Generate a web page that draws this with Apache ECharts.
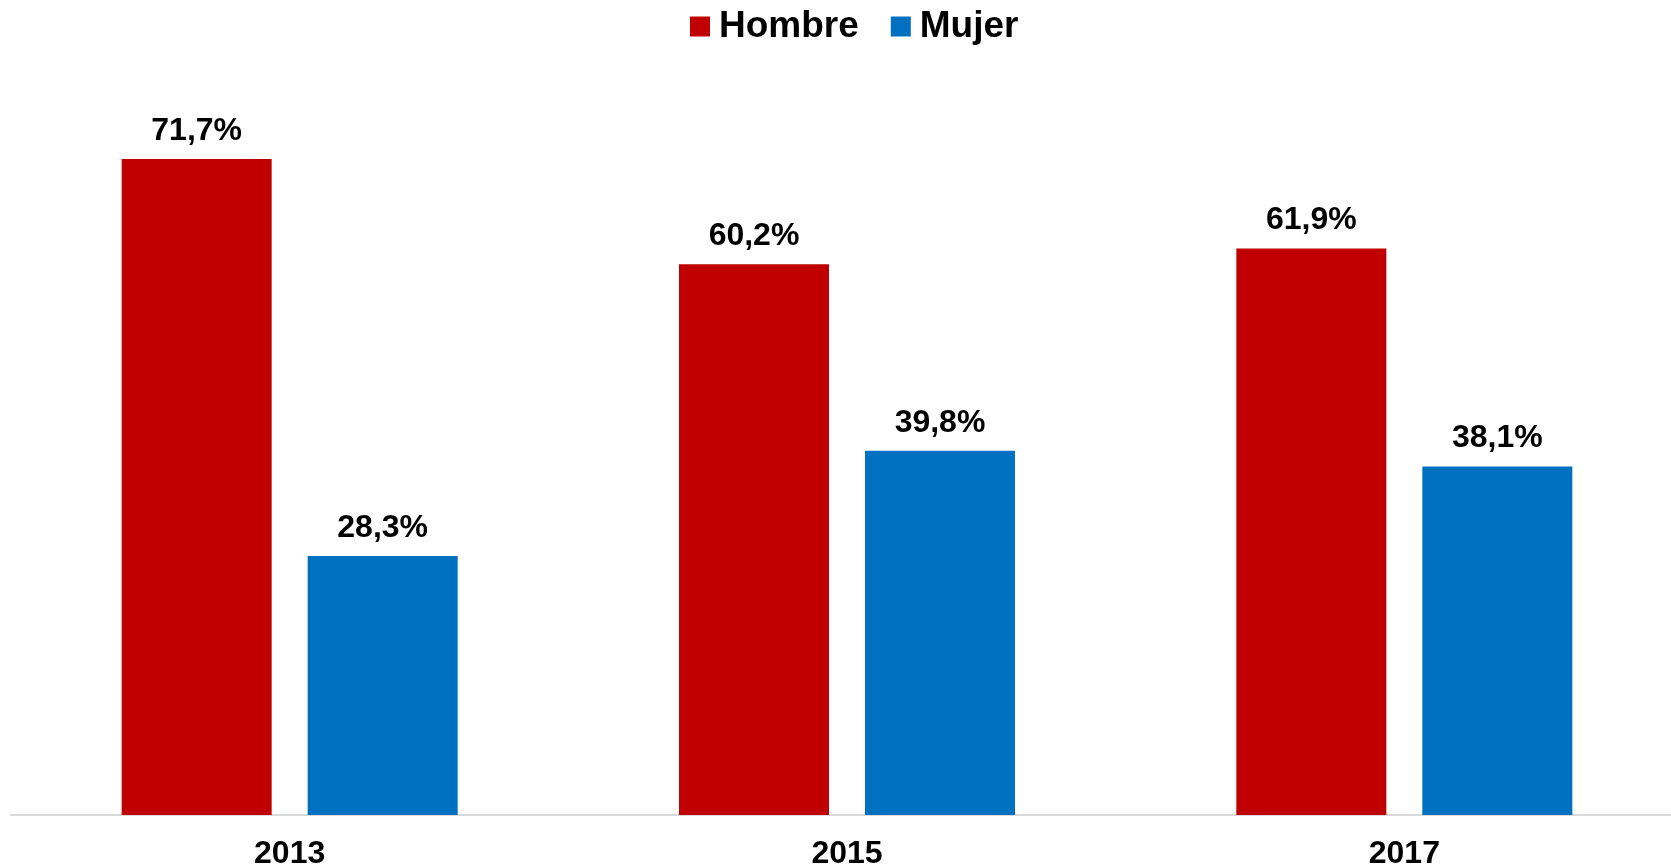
<!DOCTYPE html>
<html><head><meta charset="utf-8">
<script src="https://cdn.jsdelivr.net/npm/echarts@6/dist/echarts.min.js"></script>
<style>html,body{margin:0;padding:0;background:#fff;overflow:hidden}#c{width:1671px;height:866px}</style>
</head><body><div id="c"></div>
<script>
const categories = ['2013', '2015', '2017'];
const hombre = [71.7, 60.2, 61.9];
const mujer = [28.3, 39.8, 38.1];
const seriesNames = ['Hombre', 'Mujer'];

const font = '"Liberation Sans", Arial, sans-serif';
const chart = echarts.init(document.getElementById('c'));
const lbl = {
  show: true, position: 'top', distance: 12,
  fontFamily: font, fontWeight: 'bold', fontSize: 32, color: '#000',
  formatter: p => p.value.toFixed(1).replace('.', ',') + '%'
};
chart.setOption({
  animation: false,
  legend: {
    top: 3, left: 685, itemWidth: 20, itemHeight: 20, itemGap: 32, icon: 'rect',
    textStyle: { fontFamily: font, fontWeight: 'bold', fontSize: 37, color: '#000', padding: [0, 0, 0, 4] },
    data: seriesNames
  },
  grid: { left: 11, width: 1672, top: 83, bottom: 51, outerBoundsMode: 'none' },
  xAxis: {
    type: 'category', data: categories,
    axisLine: { lineStyle: { color: '#D9D9D9', width: 2 } },
    axisTick: { show: false },
    axisLabel: { fontFamily: font, fontWeight: 'bold', fontSize: 32, color: '#000', margin: 23 }
  },
  yAxis: { type: 'value', min: 0, max: 80, show: false, splitLine: { show: false } },
  series: [
    { name: seriesNames[0], type: 'bar', data: hombre, barWidth: 150, barGap: '24%',
      itemStyle: { color: '#C00000' }, label: lbl },
    { name: seriesNames[1], type: 'bar', data: mujer, barWidth: 150,
      itemStyle: { color: '#0070C0' }, label: lbl }
  ]
});
</script></body></html>
